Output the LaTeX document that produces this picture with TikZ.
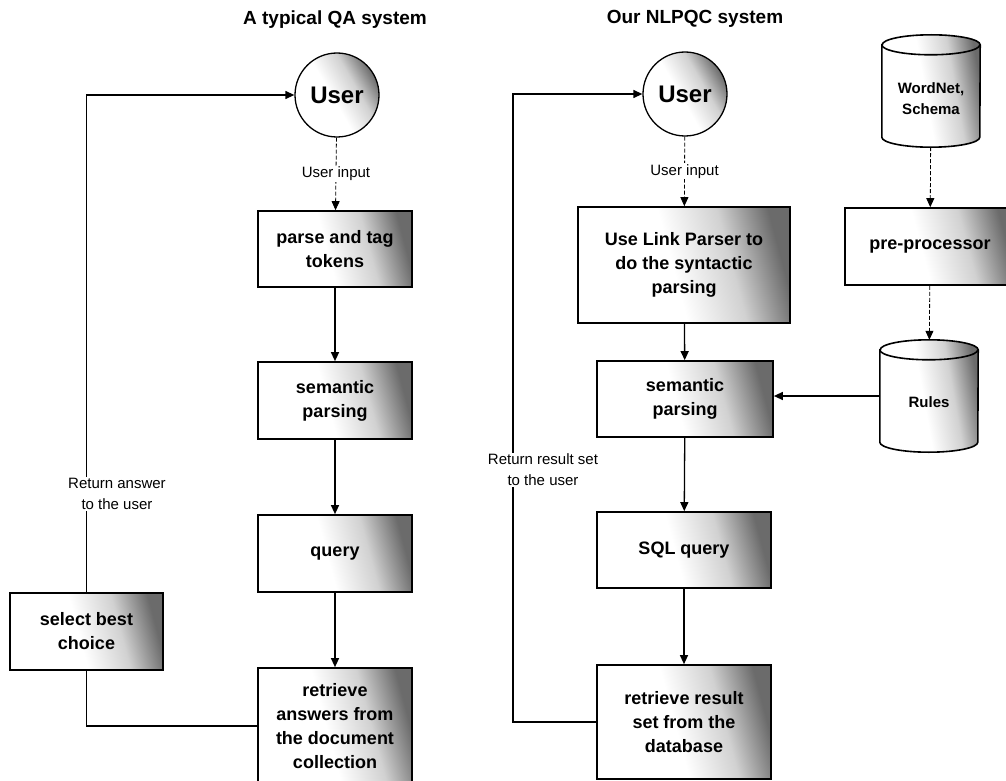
\documentclass[tikz,border=0pt]{standalone}
\usepackage{fontspec}
\setmainfont{Liberation Sans}
\usetikzlibrary{arrows.meta,backgrounds}

% white on the left, darkening towards the right edge
\pgfdeclarehorizontalshading{stipple}{100bp}{color(0bp)=(white); color(25bp)=(white); color(47bp)=(white); color(62bp)=(black!18); color(75bp)=(black!58); color(100bp)=(black!58)}

% outline of a vertical cylinder drawn round a named rectangular node
\newcommand\cylinderoutline[1]{%
  \draw[line width=1.6pt, shade, shading=stipple, shading angle=10]
    ([yshift=-10pt]#1.north west) -- ([yshift=10pt]#1.south west)
    arc[start angle=180, end angle=360, x radius=49pt, y radius=10pt]
    -- ([yshift=-10pt]#1.north east)
    arc[start angle=0, end angle=180, x radius=49pt, y radius=10pt] -- cycle;
  \draw[line width=1.6pt] ([yshift=-10pt]#1.north west)
    arc[start angle=180, end angle=360, x radius=49pt, y radius=10pt];
}

\begin{document}
\begin{tikzpicture}[x=1pt, y=-1pt,
  proc/.style={draw, line width=1.7pt, shade, shading=stipple, shading angle=15,
    align=center, inner sep=0pt, font=\bfseries\fontsize{18}{24}\selectfont},
  usr/.style={circle, draw, line width=1.3pt, shade, shading=stipple, shading angle=30,
    minimum size=84pt, inner sep=0pt, font=\bfseries\fontsize{24}{26}\selectfont},
  store/.style={minimum width=98pt, minimum height=112pt, inner sep=0pt},
  storetext/.style={align=center, inner sep=0pt, font=\bfseries\fontsize{15}{21}\selectfont},
  flow/.style={line width=1.3pt, -{Triangle[length=9pt, width=8pt]}},
  input/.style={line width=0.8pt, dash pattern=on 4pt off 2pt, -{Triangle[length=9pt, width=8pt]}},
  lbl/.style={fill=white, align=center, inner sep=1pt, font=\fontsize{15}{21}\selectfont},
  head/.style={font=\bfseries\fontsize{19}{22}\selectfont},
]
\useasboundingbox (0,0) rectangle (1006,781);
\clip (0,0) rectangle (1006,781);

% headings
\node[head] (headL) at (335,20) {A typical QA system};
\node[head] (headR) at (695,19) {Our NLPQC system};

% typical QA pipeline
\node[usr] (uL) at (337,95) {User};
\node[proc, minimum width=154pt, minimum height=76pt] (l1) at (335,249) {parse and tag\\tokens};
\node[proc, minimum width=154pt, minimum height=77pt] (l2) at (335,400.5) {semantic\\parsing};
\node[proc, minimum width=154pt, minimum height=77pt] (l3) at (335,553.5) {query};
\node[proc, minimum width=154pt, minimum height=116pt] (l4) at (335,726) {retrieve\\answers from\\the document\\collection};
\node[proc, minimum width=153pt, minimum height=77pt] (lsel) at (86.5,631.5) {select best\\choice};

% NLPQC pipeline
\node[usr] (uR) at (685,94) {User};
\node[proc, minimum width=212pt, minimum height=116pt] (r1) at (684,265) {Use Link Parser to\\do the syntactic\\parsing};
\node[proc, minimum width=176pt, minimum height=76pt] (r2) at (685,399) {semantic\\parsing};
\node[proc, minimum width=174pt, minimum height=76pt] (r3) at (684,550) {SQL query};
\node[proc, minimum width=174pt, minimum height=114pt] (r4) at (684,722) {retrieve result\\set from the\\database};

% knowledge sources: cylinder frames, their texts sit in the body below the lid
\node[store] (wn) at (931,91) {};
\node[storetext] (wnText) at ([yshift=-8pt]wn.center) {WordNet,\\Schema};
\node[proc, minimum width=170pt, minimum height=77pt] (pre) at (930,246.5) {pre-processor};
\node[store] (rules) at (929,396) {};
\node[storetext] (rulesText) at ([yshift=-6pt]rules.center) {Rules};
\begin{scope}[on background layer]
  \cylinderoutline{wn}
  \cylinderoutline{rules}
\end{scope}

% connectors, left
\draw[input] (uL) -- node[lbl] (inL) {User input} (l1);
\draw[flow] (l1) -- (l2);
\draw[flow] (l2) -- (l3);
\draw[flow] (l3) -- (l4);
\draw[line width=1.3pt] (l4.west) -| (lsel.south);
\draw[flow] (lsel.north) |- (uL.west);
\node[lbl] (retL) at (117,494) {Return answer\\to the user};

% connectors, right
\draw[input] (uR) -- node[lbl] (inR) {User input} (r1);
\draw[flow] (r1) -- (r2);
\draw[flow] (r2) -- (r3);
\draw[flow] (r3) -- (r4);
\coordinate (rbend) at (513,722);
\draw[flow] (r4.west) -- (rbend) |- (uR.west);
\node[lbl] (retR) at (543,470) {Return result set\\to the user};

\draw[input] (wn) -- (pre);
\draw[input] (pre) -- (rules);
\draw[flow] (rules.west) -- (rules.west -| r2.east);
\end{tikzpicture}
\end{document}
